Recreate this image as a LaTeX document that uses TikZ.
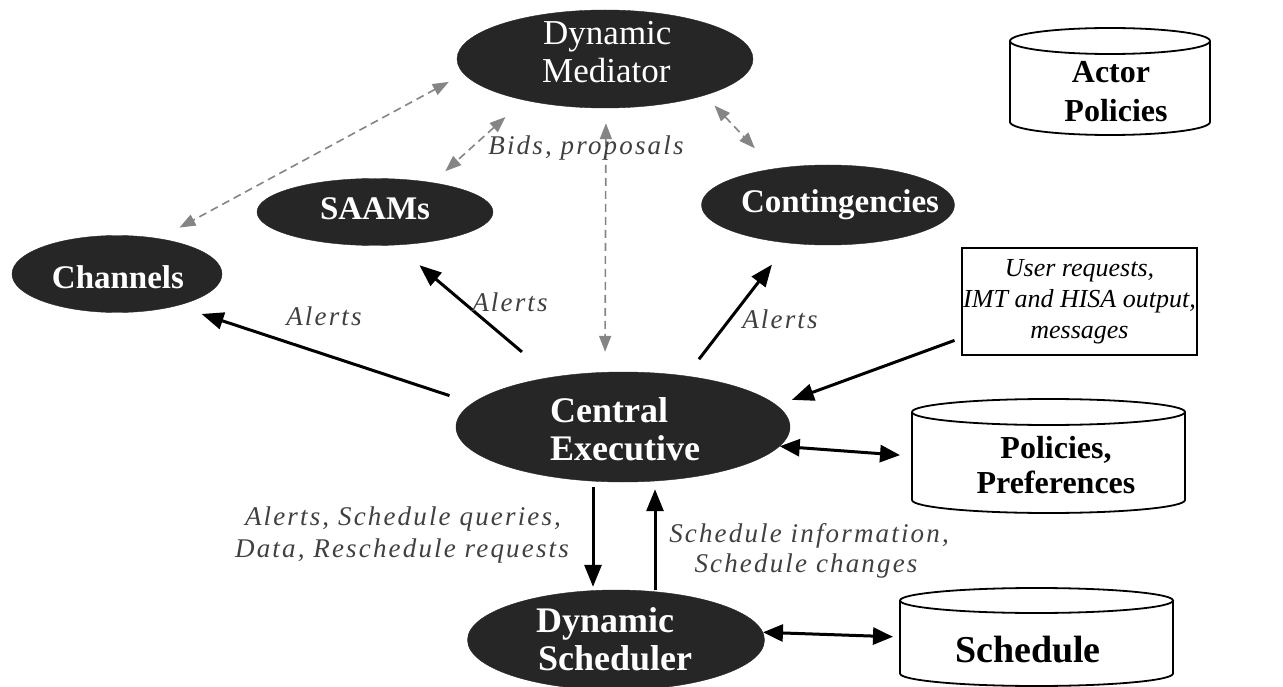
\documentclass[tikz,border=0pt]{standalone}
\usepackage{fontspec}
\setmainfont{Liberation Serif}
\newfontfamily\labfont[LetterSpace=8]{Liberation Serif}
\usetikzlibrary{arrows.meta,shapes.geometric}
\definecolor{ellfill}{HTML}{262626}
\definecolor{dashcol}{HTML}{858585}
\definecolor{labcol}{HTML}{404040}
\newcommand\drum[5]{%
  \draw[cyl] ({(#1+#3)/2},{#2+#5}) ellipse [x radius={(#3-#1)/2}, y radius=#5];
  \draw[cyl] (#1,{#2+#5}) -- (#1,{#4-#5}) arc[start angle=180, end angle=0, x radius={(#3-#1)/2}, y radius=#5] -- (#3,{#2+#5});
}
\begin{document}
\begin{tikzpicture}[x=1pt,y=-1pt,
  ell/.style={ellipse, fill=ellfill, draw=ellfill, inner sep=0pt},
  etxt/.style={text=white, font=\bfseries\fontsize{33}{38}\selectfont, anchor=base, inner sep=0pt},
  ebig/.style={text=white, font=\bfseries\fontsize{36}{38}\selectfont, anchor=base west, inner sep=0pt},
  emed/.style={text=white, font=\fontsize{35}{38}\selectfont, anchor=base west, inner sep=0pt},
  lab/.style={text=labcol, font=\labfont\itshape\fontsize{27}{32}\selectfont, anchor=base, inner sep=0pt},
  ctxt/.style={font=\bfseries\fontsize{32}{36}\selectfont, anchor=base, inner sep=0pt},
  holder/.style={inner sep=0pt, outer sep=0pt},
  arr/.style={line width=3pt, -{Triangle[length=22pt,width=17pt]}},
  darr/.style={line width=3pt, {Triangle[length=20pt,width=17pt]}-{Triangle[length=20pt,width=17pt]}},
  dsh/.style={dashcol, line width=1.6pt, dash pattern=on 8pt off 5pt, {Triangle[length=16pt,width=12pt]}-{Triangle[length=16pt,width=12pt]}},
  cyl/.style={line width=1.8pt}
]
\useasboundingbox (0,0) rectangle (1283,687);

% ellipses
\node[ell, minimum width=296pt, minimum height=98pt] (med) at (605,59) {};
\node[ell, minimum width=236pt, minimum height=67pt] (saam) at (375,212) {};
\node[ell, minimum width=210pt, minimum height=77pt] (chan) at (117,274) {};
\node[ell, minimum width=253pt, minimum height=80pt] (cont) at (828,205) {};
\node[ell, minimum width=334pt, minimum height=110pt] (ce) at (623,427) {};
\node[ell, minimum width=297pt, minimum height=100pt] (ds) at (616,640) {};

\node[emed] (med1) at (543,45) {Dynamic};
\node[emed] (med2) at (542,83) {Mediator};
\node[etxt] (saamt) at (375,220) {SAAMs};
\node[etxt] (chant) at (118,288) {Channels};
\node[etxt] (contt) at (840,213) {Contingencies};
\node[ebig] (ce1) at (550,422) {Central};
\node[ebig] (ce2) at (550,460) {Executive};
\node[ebig] (ds1) at (536,632) {Dynamic};
\node[ebig] (ds2) at (538,670) {Scheduler};

% cylinders
\drum{1010}{28}{1210}{135}{13}
\node[holder, minimum width=200pt, minimum height=107pt] (act) at (1110,81.5) {};
\node[ctxt] (act1) at (1111,83) {Actor};
\node[ctxt] (act2) at (1116,122) {Policies};

\drum{912}{399}{1185}{513}{13}
\node[holder, minimum width=273pt, minimum height=114pt] (pol) at (1048.5,456) {};
\node[ctxt] (pol1) at (1056,458) {Policies,};
\node[ctxt] (pol2) at (1056,493) {Preferences};

\drum{900}{588}{1173}{686}{12.5}
\node[holder, minimum width=273pt, minimum height=98pt] (sch) at (1036.5,637) {};
\node[ctxt, font=\bfseries\fontsize{38}{40}\selectfont] (scht) at (1028,662) {Schedule};

% user box
\node[draw, line width=1.8pt, minimum width=235pt, minimum height=107pt, inner sep=0pt,
      align=center, font=\itshape\fontsize{26}{31}\selectfont] (usr) at (1079.5,301.5)
  {User requests,\\IMT and HISA output,\\messages};

% solid arrows
\draw[arr, shorten <=24pt, shorten >=26pt] (ce.171) -- (chan.-28);
\draw[arr, shorten <=39pt, shorten >=31pt] (ce.145) -- (saam.-58);
\draw[arr, shorten <=21pt, shorten >=27pt] (ce.39) -- (cont.224);
\draw[arr, shorten <=7pt, shorten >=16pt] ([yshift=-36.5pt]usr.west) -- (ce.8);
\draw[darr, shorten >=12pt] (ce.-7) -- (pol.west);
\draw[arr, shorten <=5pt, shorten >=3pt] ([xshift=-30pt]ce.south) -- ([xshift=-23pt]ds.north);
\draw[arr, shorten <=0pt, shorten >=7pt] ([xshift=39pt]ds.north) -- ([xshift=32pt]ce.south);
\draw[darr, shorten >=7pt] (ds.3) -- (sch.west);

% dashed arrows
\draw[dsh, shorten <=17pt, shorten >=23pt] (med.186) -- (chan.40);
\draw[dsh, shorten <=25pt, shorten >=17pt] (med.207) -- (saam.27);
\draw[dsh, shorten <=15pt, shorten >=20pt] ([xshift=1pt]med.south) -- ([xshift=-18pt]ce.north);
\draw[dsh, shorten <=14pt, shorten >=28pt] (med.-20) -- (cont.146);

% labels
\node[lab] (bids) at (586,155) {Bids, proposals};
\node[lab] (al1) at (324,325) {Alerts};
\node[lab] (al2) at (510,312) {Alerts};
\node[lab] (al3) at (780,328) {Alerts};
\node[lab] (q1) at (403,525) {Alerts, Schedule queries,};
\node[lab] (q2) at (402,557) {Data, Reschedule requests};
\node[lab] (s1) at (809,542) {Schedule information,};
\node[lab] (s2) at (806,572) {Schedule changes};
\end{tikzpicture}
\end{document}
